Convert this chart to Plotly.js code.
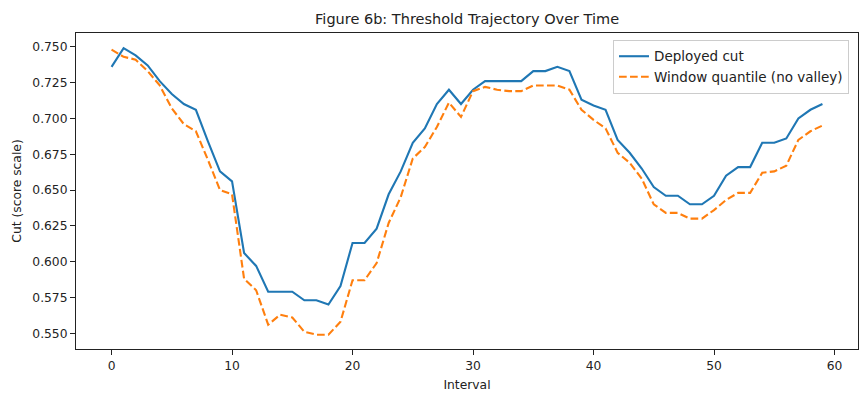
<!DOCTYPE html>
<html>
<head>
<meta charset="utf-8">
<script src="https://cdn.plot.ly/plotly-3.0.1.min.js"></script>
<style>html,body{margin:0;padding:0;background:#fff}#chart{width:865px;height:412px}</style>
</head>
<body>
<div id="chart"></div>
<script>
const intervals = Array.from({length: 60}, (_, i) => i);
const deployedCut = [
  0.736, 0.749, 0.744, 0.737, 0.726, 0.717, 0.710, 0.706, 0.684, 0.663,
  0.656, 0.606, 0.597, 0.579, 0.579, 0.579, 0.573, 0.573, 0.570, 0.583,
  0.613, 0.613, 0.623, 0.647, 0.663, 0.683, 0.693, 0.710, 0.720, 0.710,
  0.720, 0.726, 0.726, 0.726, 0.726, 0.733, 0.733, 0.736, 0.733, 0.713,
  0.709, 0.706, 0.685, 0.676, 0.665, 0.652, 0.646, 0.646, 0.640, 0.640,
  0.646, 0.660, 0.666, 0.666, 0.683, 0.683, 0.686, 0.700, 0.706, 0.710
];
const windowQuantile = [
  0.748, 0.743, 0.741, 0.733, 0.723, 0.707, 0.696, 0.691, 0.671, 0.650,
  0.647, 0.588, 0.580, 0.556, 0.563, 0.561, 0.551, 0.549, 0.549, 0.558,
  0.587, 0.587, 0.599, 0.627, 0.645, 0.672, 0.680, 0.694, 0.711, 0.701,
  0.719, 0.722, 0.720, 0.719, 0.719, 0.723, 0.723, 0.723, 0.720, 0.706,
  0.699, 0.693, 0.676, 0.669, 0.658, 0.640, 0.634, 0.634, 0.630, 0.630,
  0.636, 0.643, 0.648, 0.648, 0.662, 0.663, 0.667, 0.685, 0.691, 0.695
];
const seriesNames = ["Deployed cut", "Window quantile (no valley)"];
const xTicks = [0, 10, 20, 30, 40, 50, 60];
const yTicks = [0.550, 0.575, 0.600, 0.625, 0.650, 0.675, 0.700, 0.725, 0.750];

const font = "DejaVu Sans, sans-serif";
const traces = [
  {x: intervals, y: deployedCut, name: seriesNames[0], type: "scatter", mode: "lines",
   line: {color: "#1f77b4", width: 2.1}},
  {x: intervals, y: windowQuantile, name: seriesNames[1], type: "scatter", mode: "lines",
   line: {color: "#ff7f0e", width: 2.1, dash: "7.7px,3.3px"}}
];
const axisCommon = {
  showgrid: false, zeroline: false, showline: true, mirror: true,
  linecolor: "#222", linewidth: 1, ticks: "outside", ticklen: 5, tickwidth: 1,
  tickcolor: "#222", tickfont: {family: font, size: 12.3, color: "#222"}
};
const layout = {
  width: 865, height: 412,
  margin: {l: 76, r: 7, t: 33, b: 63},
  paper_bgcolor: "#fff", plot_bgcolor: "#fff",
  font: {family: font, color: "#222"},
  title: {text: "Figure 6b: Threshold Trajectory Over Time", x: 0.54, xanchor: "center",
          y: 0.955, yanchor: "middle", font: {family: font, size: 14.5, color: "#222"}},
  xaxis: Object.assign({}, axisCommon, {
    range: [-2.95, 61.95], tickvals: xTicks, ticktext: xTicks.map(String),
    title: {text: "Interval", font: {family: font, size: 12.3, color: "#222"}, standoff: 8}
  }),
  yaxis: Object.assign({}, axisCommon, {
    range: [0.5390, 0.7596], tickvals: yTicks, ticktext: yTicks.map(v => v.toFixed(3)),
    title: {text: "Cut (score scale)", font: {family: font, size: 12.3, color: "#222"}, standoff: 8}
  }),
  showlegend: true,
  legend: {x: 0.9885, xanchor: "right", y: 0.978, yanchor: "top",
           bgcolor: "rgba(255,255,255,0.8)", bordercolor: "#ccc", borderwidth: 1,
           font: {family: font, size: 13.5, color: "#222"}, tracegroupgap: 0}
};
Plotly.newPlot("chart", traces, layout, {displayModeBar: false, staticPlot: true});
</script>
</body>
</html>
